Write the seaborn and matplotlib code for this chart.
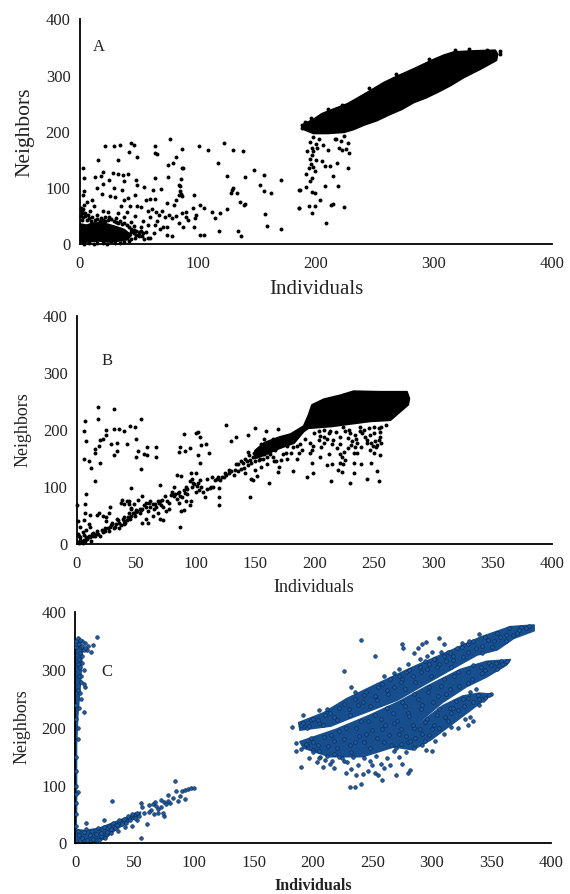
import matplotlib
matplotlib.use("Agg")
import matplotlib.pyplot as plt
import seaborn as sns
import pandas as pd

sns.set_style("white")
plt.rcParams['font.family'] = ['Liberation Serif', 'DejaVu Serif']

ticks_a = [0, 100, 200, 300, 400]
ticks_bc = [0, 50, 100, 150, 200, 250, 300, 350, 400]
y_ticks = [0, 100, 200, 300, 400]

# ---- panel A ----
a_band_x = [190,198,205,212,227,237,246,258,269,283,297,308,317,335,352,354,353,340,325,314,303,293,283,273,263,252,241,232,224,210,198,190]
a_band_y = [214,222,232,238,250,262,273,288,299,312,326,336,342,344,345,338,327,312,296,282,270,260,252,240,231,220,212,204,199,197,197,204]
a_core_x = [1,6,12,20,30,38,44,40,34,26,16,6,1]
a_core_y = [36,34,38,38,32,26,16,8,6,4,6,4,3]
a_pts = [(22,174),(29,174),(34,176),(44,180),(46,177),(42,164),(49,156),(33,150),(16,150),(64,174),(64,162),(66,160),
 (77,187),(87,170),(82,155),(75,141),(79,144),(87,135),(88,135),(101,174),(109,167),(117,145),(122,180),(130,167),
 (138,165),(148,132),(140,119),(125,121),(156,124),(171,114),(153,106),(156,94),(162,92),(186,97),(186,64),(157,54),
 (159,33),(171,27),(134,24),(137,15),(118,24),(102,17),(105,17),(125,63),(129,97),(130,100),(128,91),(133,92),(136,76),
 (139,70),(140,72),(119,55),(115,46),(112,58),(102,70),(105,64),(99,52),(96,64),(92,43),(97,30),(88,31),(87,55),(90,58),
 (87,85),(97,87),(85,103),(85,94),(82,79),(80,70),(74,73),(78,46),(78,14),(74,17),(71,31),(68,28),(63,20),(58,11),(56,22),
 (3,136),(4,118),(4,95),(3,88),(6,76),(11,78),(13,120),(15,100),(18,122),(20,108),(20,128),(19,90),(25,115),(28,127),
 (33,125),(37,124),(41,125),(38,113),(48,114),(49,106),(55,102),(62,97),(64,118),(69,99),(75,119),(86,116),(84,106),
 (29,100),(26,85),(36,96),(30,84),(38,78),(47,87),(41,82),(35,68),(43,68),(49,68),(52,66),(56,78),(60,80),(64,80),(61,62),
 (65,58),(58,60),(67,52),(70,60),(72,48),(76,52),(82,50),(84,38),(74,30),(66,42),(60,48),(54,42),(47,50),(40,58),(33,55),
 (24,58),(15,52),(9,60),(3,62),(2,55),(5,50),(20,60),(12,68),(4,70),(25,48),(38,48),(44,40),(58,34),(64,34),(52,30),(60,12),
 (55,10),(50,14),(31,46),(18,47),(90,49),(98,46),(84,87),(86,90),(2,44),(1,30),(6,44),(10,42),(22,42),(33,38),(46,32)]
a_core_pts = [(1,65),(2,60),(1,50),(3,48),(5,56),(7,52),(8,46),(11,48),(13,44),(15,45),(17,42),(20,44),(22,48),(24,43),(27,45),(29,42),
 (31,40),(34,42),(36,36),(38,38),(40,34),(42,30),(44,28),(46,26),(48,24),(50,22),(52,24),(54,20),(53,14),(50,18),(47,12),(44,10),(42,6),
 (38,4),(34,3),(30,2),(27,5),(23,1),(20,3),(15,2),(12,1),(8,2),(4,1),(1,8),(1,16),(1,24),(2,30),(46,20),(48,16),(42,18),(44,22),(38,22),(36,16),
 (40,12),(35,10),(32,12),(30,18),(28,10),(25,14),(22,8),(19,12),(15,9),(10,10),(7,14),(4,12),(5,20),(8,26),(12,22),(18,20),(24,26),(28,30),(34,28)]
a_lower_pts = [(198,190),(203,187),(195,182),(200,178),(216,188),(221,184),(224,192),(227,180),(220,172),(226,170),(217,188),
 (197,172),(193,166),(198,165),(206,176),(201,172),(210,168),(222,168),(228,163),(197,158),(195,152),(200,150),(205,148),
 (208,140),(212,139),(218,145),(227,135),(192,125),(197,118),(215,122),(195,112),(208,103),(219,103),(187,96),(192,102),
 (197,93),(199,92),(204,78),(213,70),(215,72),(224,66),(186,64),(194,68),(199,68),(197,55),(209,38),(199,130),(196,142),(194,136),(198,138),
 (188,212),(188,206),(191,218),(196,224),(210,240),(222,248),(245,278),(268,302),(296,330),(318,346),(330,347),(345,346),(356,338),(356,344)]

# ---- panel B ----
b_band_x = [150,158,171,180,191,195,198,208,222,233,255,278,280,279,264,247,214,195,191,183,171,158,150]
b_band_y = [164,178,188,193,207,226,244,254,261,268,267,267,255,244,217,215,206,203,197,177,168,156,150]
b_pts = [(18,241),(31,237),(18,219),(54,219),(7,215),(6,199),(8,180),(25,200),(31,202),(36,202),(40,198),(45,207),(49,205),
 (50,184),(25,191),(22,184),(20,182),(15,167),(15,160),(19,172),(29,175),(34,177),(42,175),(34,164),(31,157),(52,164),(50,152),
 (57,158),(59,156),(59,171),(67,171),(67,152),(54,132),(12,134),(6,149),(10,145),(20,143),(15,110),(8,88),(46,99),(87,171),
 (86,162),(91,164),(95,169),(90,193),(100,194),(102,197),(104,187),(105,173),(109,175),(102,157),(111,160),(104,142),(126,208),
 (134,188),(130,180),(144,191),(150,204),(159,198),(169,201),(146,83),(162,108),(169,126),(120,69),(120,82),(120,98),(87,30),
 (198,142),(199,124),(194,117),(182,128),(214,111),(230,108),(244,115),(254,110),(253,128),(233,124),(220,130),(223,126),(211,139),
 (215,140),(222,142),(233,143),(239,141),(248,142),(212,158),(205,153),(187,159),(198,165),(206,171),(219,168),(234,171),(233,159),
 (225,162),(253,174),(255,157),(244,182),(255,188),(254,204),(238,206),(222,188),(208,188),(230,194),(247,165),(250,159),(248,177),
 (236,177),(232,180),(208,177),(216,183),(240,195),(226,198),(212,194),(250,194),(204,182),(199,172),(196,160),(224,140),(228,168),
 (236,160),(244,178),(252,170),(254,182),(190,165),(185,150),(177,150),(172,148),(168,146),(165,152),(170,135),(180,160),(174,158),
 (0,68),(7,70),(7,55),(11,52),(17,52),(19,55),(1,40),(6,42),(10,35),(3,30),(11,30),(14,20),(17,24),(22,22),(26,28),(25,40),(22,50),
 (27,55),(28,65),(25,47),(30,38),(34,45),(32,30),(36,28),(40,35),(42,42),(38,78),(42,75),(44,70),(46,62),(48,55),(50,60),(53,62),
 (55,85),(52,78),(58,72),(62,75),(55,38),(58,45),(60,38),(64,50),(68,55),(70,44),(73,42),(70,75),(72,78),(78,62),(78,72),(82,85),
 (85,90),(86,72),(88,58),(90,60),(92,75),(90,95),(93,88),(96,75),(95,68),(97,115),(96,125),(100,125),(102,108),(105,100),(108,82),
 (112,98),(115,100),(100,92),(84,122),(88,120),(82,100),(80,92),(70,103),(62,65),(66,70),(75,58),(60,58),(48,70),(44,55),(40,48),
 (30,35),(20,15),(8,12),(4,6),(2,2),(6,8),(10,15),(12,6),(14,14),(3,12),(1,18),(5,22),(8,25),(16,18),(24,24),(28,30),(36,38),(40,40),
 (46,50),(50,56),(54,60),(58,65),(64,70),(68,75),(74,85),(80,88),(86,92),(92,100),(98,108),(104,112),(110,115),(114,118),(118,115),
 (122,118),(125,125),(128,130),(134,140),(138,132),(140,142),(142,150),(144,138),(146,148),(148,152),(150,145),(152,160),(154,150),
 (156,166),(158,158),(160,152),(162,165),(164,170),(150,130),(147,115),(142,125),(136,128),(132,122),(128,125),(148,112),(152,120),
 (155,135),(160,140),(166,145),(144,162),(155,175),(158,184),(176,160),(176,182),(165,185)]
b_dense_pts = [(1,4),(3,8),(5,3),(7,6),(9,10),(11,12),(2,14),(6,16),(13,18),(15,14),(18,18),(21,25),(24,28),(27,24),(29,33),(33,36),(31,28),
 (35,42),(37,34),(39,44),(41,38),(43,48),(45,44),(47,54),(49,50),(51,58),(53,55),(55,62),(46,64),(44,76),(40,70),(37,72),(57,68),(61,72),(65,62),
 (67,66),(69,72),(71,68),(73,65),(76,76),(79,86),(83,88),(84,80),(87,84),(89,82),(91,90),(93,96),(95,110),(97,100),(99,105),(101,102),
 (103,95),(106,92),(110,96),(113,100),(116,112),(119,118),(121,112),(124,118),(126,122),(130,128),(133,130),(136,140),(138,145),(141,134),(143,146),(145,156),
 (147,142),(149,160),(151,155),(153,148),(155,160),(157,150),(159,170),(161,162),(163,158),(165,175),(167,165),(169,178),(171,172),(173,180),(175,175),(177,172),(179,182),(182,170),(185,172),
 (188,175),(192,185),(196,178),(200,195),(204,198),(208,200),(213,198),(218,196),(224,205),(229,200),(234,192),(238,198),(242,200),(246,204),(250,206),(256,206),(260,208),
 (205,190),(211,184),(215,176),(222,176),(228,186),(231,174),(235,185),(239,170),(243,188),(247,192),(251,180),(255,196),(256,178),(249,172),(222,158),(226,148),(223,152)]

# ---- panel C ----
c_top_x = [188,209,228,257,285,313,341,366,386,386,369,355,338,318,293,271,251,228,215,189]
c_top_y = [209,226,250,279,306,331,357,375,378,368,355,335,326,303,274,248,232,214,203,196]
c_mid_x = [189,219,248,273,296,324,346,366,363,346,329,309,290,268,242,214,192]
c_mid_y = [176,197,222,246,272,301,315,318,309,288,271,244,211,167,150,150,165]
c_low_x = [290,309,326,340,351,340,318,299,284,268]
c_low_y = [208,238,255,260,258,242,208,179,162,167]
c_col_x = [0,3,6,5,4,2,1,1,0]
c_col_y = [352,350,340,300,270,220,170,60,0]
c_foot_x = [0,8,20,30,40,55,54,42,33,25,15,0]
c_foot_y = [24,22,26,34,42,54,48,34,22,8,1,0]
c_pts = [(18,358),(15,343),(11,342),(13,332),(10,335),(8,346),(6,350),(7,300),(8,270),(7,275),(5,250),(7,228),(5,290),(3,320),(1,340),
 (2,200),(1,150),(1,100),(2,88),(1,70),(0.5,50),(9,36),(24,40),(31,73),(55,70),(84,108),(55,10),(60,33),(62,66),(65,68),(68,65),(70,60),
 (72,75),(75,72),(78,84),(75,47),(74,52),(70,52),(66,50),(80,70),(82,78),(85,90),(88,82),(90,90),(92,93),(95,94),(97,95),(100,95),(92,76),
 (86,74),(72,62),(64,58),(58,52),(56,62),(52,40),(48,30),(42,28),(36,22),(45,44),(50,50),(30,18),(27,26),(26,16),(18,5),(22,12),(62,55),(76,68),(78,74),(67,72),
 (182,202),(190,205),(198,214),(205,231),(186,174),(190,163),(186,160),(195,170),(200,162),(206,150),(210,145),(190,132),(197,148),(203,140),
 (208,132),(214,138),(218,130),(222,150),(226,142),(232,128),(228,122),(236,118),(231,97),(235,98),(240,102),(242,120),(246,125),(250,135),
 (255,118),(258,110),(252,122),(260,130),(265,135),(270,118),(275,138),(280,122),(282,127),(268,160),(272,150),(278,158),(285,165),(292,170),
 (295,162),(300,160),(303,178),(310,190),(316,202),(322,200),(330,205),(328,215),(335,212),(332,218),(340,240),(345,252),(350,258),
 (226,299),(240,352),(252,325),(268,295),(272,302),(275,345),(276,338),(288,338),(292,345),(295,348),(300,332),(303,320),(306,355),(310,345),
 (314,332),(318,318),(285,330),(290,320),(296,325),(325,346),(330,345),(340,362),(298,310),(310,325),(280,310),(275,285),(260,290),(235,262),
 (232,270),(212,232),(195,200),(192,222),
 (200,215),(210,222),(222,235),(235,250),(245,262),(255,270),(265,285),(278,296),(290,306),(302,320),(315,330),(325,340),(335,350),(345,358),(355,365),(365,372),(375,374),(382,376),
 (205,208),(218,218),(230,232),(242,245),(252,255),(262,265),(274,280),(284,290),(296,302),(306,310),(318,325),(330,332),(342,342),(352,350),(362,360),(372,364),
 (200,175),(215,188),(228,200),(240,212),(252,222),(262,235),(275,245),(285,258),(298,270),(310,285),(322,296),(335,308),(348,312),(358,316),
 (205,160),(220,165),(235,175),(245,190),(258,198),(268,208),(280,225),(292,240),(305,255),(315,268),(330,278),(342,295),(355,302),
 (218,155),(232,158),(248,165),(260,175),(272,190),(285,200),(296,215),(306,232),(320,246),(332,262),(340,250),(348,256),(316,225),(300,198),(292,190),(280,175)]
c_extra = [(192,208),(197,203),(204,214),(208,204),(214,226),(220,214),(226,242),(231,222),(238,240),(243,256),(248,238),(254,248),(258,276),(263,258),(268,270),(272,290),
 (277,268),(281,300),(286,280),(291,296),(294,316),(299,290),(304,305),(308,332),(312,316),(316,305),(321,338),(326,322),(331,350),(337,338),(342,330),(347,352),(351,340),(357,358),(362,350),(368,360),(373,370),(379,372),
 (194,172),(198,182),(204,170),(209,184),(213,168),(218,178),(222,195),(226,180),(231,170),(236,200),(239,186),(243,176),(246,212),(250,196),(254,182),(257,216),(261,205),(264,188),(267,226),(271,212),
 (274,198),(277,238),(281,220),(284,205),(288,250),(291,232),(294,210),(297,262),(301,245),(304,222),(308,272),(312,258),(315,235),(319,290),(323,272),(326,250),(330,296),(334,284),(337,268),(341,305),(345,300),
 (350,308),(354,312),(359,310),(363,316),(200,158),(205,148),(212,152),(216,143),(224,148),(229,140),(234,150),(238,135),(243,148),(248,142),(253,152),(257,138),(262,148),(266,170),(270,165),(274,172),(278,185),(282,178),
 (286,182),(290,198),(294,178),(298,188),(302,205),(306,200),(311,218),(314,212),(318,235),(322,230),(327,238),(330,252),(335,245),(339,256),(343,248)]
c_left = [(0.5,345),(1,350),(2,355),(3,345),(4,352),(5,340),(6,342),(7,335),(8,338),(4,330),(6,325),(2,310),(4,305),(6,312),(3,290),(5,280),(2,265),(4,260),(1,240),(3,235),(1,215),(2,180),(1,125),(0.5,85),
 (1,30),(2,22),(3,14),(4,6),(6,10),(7,20),(9,24),(10,6),(12,14),(14,22),(15,8),(17,16),(19,26),(20,6),(22,18),(24,28),(25,10),(27,20),(28,30),(30,24),(32,36),(33,26),(35,32),(37,40),(39,34),(41,42),(43,36),(44,48),(46,40),(48,50),(50,44),(52,52),(54,48)]

C_BLUE = "#1c5ba3"
C_FILL = "#174e8e"


def panel(box, xticks, pts, polys, xlab, ylab, xfs, yfs, xbold, letter, color, fill, edge, size, lw):
    x0, y_top, x1, y0 = box
    ax = fig.add_axes([x0 / W, 1 - y0 / H, (x1 - x0) / W, (y0 - y_top) / H])
    for px, py in polys:
        ax.fill(px, py, facecolor=fill, edgecolor=fill, lw=1.2, joinstyle="round", zorder=2, clip_on=False)
    df = pd.DataFrame(pts, columns=["Individuals", "Neighbors"])
    sns.scatterplot(data=df, x="Individuals", y="Neighbors", ax=ax, color=color, s=size,
                    edgecolor=edge, linewidth=lw, zorder=3, clip_on=False, legend=False)
    ax.set_xlim(0, 400)
    ax.set_ylim(0, 400)
    ax.set_xticks(xticks)
    ax.set_yticks(y_ticks)
    ax.tick_params(axis="both", direction="out", length=3.5, width=1.0, color="black",
                   labelsize=12, labelcolor="#222222", pad=3)
    ax.tick_params(axis="x", pad=5)
    for s in ("top", "right"):
        ax.spines[s].set_visible(False)
    for s in ("left", "bottom"):
        ax.spines[s].set_linewidth(1.3)
        ax.spines[s].set_color("black")
    ax.patch.set_alpha(0)
    ax.set_xlabel(xlab[0], fontsize=xfs, fontweight="bold" if xbold else "normal", color="#222222")
    ax.set_ylabel(ylab[0], fontsize=yfs, color="#222222")
    ax.xaxis.set_label_coords(xlab[1] / W, 1 - xlab[2] / H, transform=fig.transFigure)
    ax.yaxis.set_label_coords(ylab[1] / W, 1 - ylab[2] / H, transform=fig.transFigure)
    ax.xaxis.label.set_verticalalignment("center")
    ax.yaxis.label.set_verticalalignment("center")
    fig.text(letter[1] / W, 1 - letter[2] / H, letter[0], fontsize=12, color="#222222", ha="center", va="center")


W, H = 570, 894
fig = plt.figure(figsize=(W / 100, H / 100), dpi=100)

panel((79.5, 19.3, 552, 244.3), ticks_a, a_pts + a_core_pts + a_lower_pts,
      [(a_band_x, a_band_y), (a_core_x, a_core_y)],
      ("Individuals", 316, 290), ("Neighbors", 25, 132), 15, 15.5, False, ("A", 99, 47),
      "black", "black", "black", 8, 0)
panel((76.7, 315.7, 552, 544.3), ticks_bc, b_pts + b_dense_pts,
      [(b_band_x, b_band_y)],
      ("Individuals", 314, 588), ("Neighbors", 23, 430), 13, 13, False, ("B", 107, 361),
      "black", "black", "black", 8, 0)
panel((75.3, 612.3, 550.7, 843.3), ticks_bc, c_pts + c_extra + c_left,
      [(c_top_x, c_top_y), (c_mid_x, c_mid_y), (c_low_x, c_low_y), (c_col_x, c_col_y), (c_foot_x, c_foot_y)],
      ("Individuals", 313, 886), ("Neighbors", 22, 727), 11.5, 13, True, ("C", 107, 672),
      C_BLUE, C_FILL, "#0a2547", 7, 0.4)

fig.savefig("out.png", dpi=100, facecolor="white")
